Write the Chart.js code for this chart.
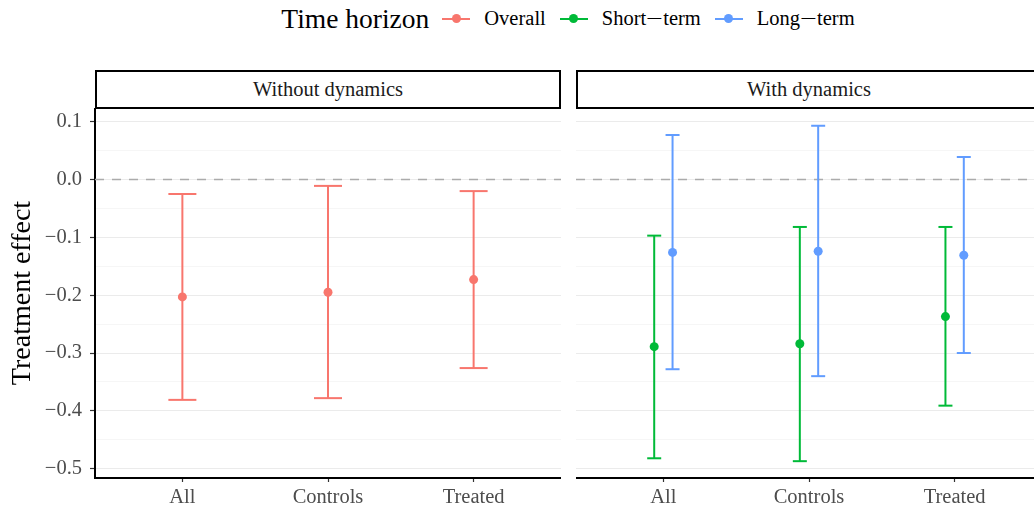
<!DOCTYPE html>
<html><head><meta charset="utf-8">
<script src="https://cdn.jsdelivr.net/npm/chart.js@4.4.1/dist/chart.umd.min.js"></script>
<style>
html,body{margin:0;padding:0;background:#fff;width:1034px;height:510px;overflow:hidden;position:relative;font-family:"Liberation Serif",serif;}
#legend{position:absolute;top:0;left:95px;width:946px;height:37px;display:flex;align-items:center;justify-content:center;}
.ltitle{font-size:27.5px;color:#000;margin-right:13px;}
.glyph{position:relative;width:28px;height:10px;margin-right:14px;}
.glyph .ln{position:absolute;left:0;right:0;top:4px;height:2px;}
.glyph .dt{position:absolute;left:9.5px;top:0.5px;width:9px;height:9px;border-radius:50%;}
.ltext{font-size:20.5px;color:#000;margin-right:14px;white-space:nowrap;}
.ltext:last-child{margin-right:0;}
.mn{display:inline-block;width:17px;text-align:center;transform:scaleX(1.45);}
.strip{position:absolute;top:70px;height:39px;box-sizing:border-box;border:2px solid #000;display:flex;align-items:center;justify-content:center;font-size:20.5px;color:#1a1a1a;background:#fff;}
canvas{position:absolute;}
</style>
</head>
<body>
<div id="legend"></div>
<div class="strip" id="strip1" style="left:95px;width:466px;"></div>
<div class="strip" id="strip2" style="left:576px;width:466px;"></div>
<canvas id="c1" width="561" height="402" style="left:0;top:108px;width:561px;height:402px;"></canvas>
<canvas id="c2" width="466" height="402" style="left:576px;top:108px;width:466px;height:402px;"></canvas>
<script>
// ---- data ----
const categories = ['All', 'Controls', 'Treated'];
const panelTitles = ['Without dynamics', 'With dynamics'];
const legendTitle = 'Time horizon';
const seriesNames = ['Overall', 'Short\u2212term', 'Long\u2212term'];
const yAxisTitle = 'Treatment effect';
const yTickValues = [0.1, 0.0, -0.1, -0.2, -0.3, -0.4, -0.5];
const yTickLabels = ['0.1', '0.0', '\u22120.1', '\u22120.2', '\u22120.3', '\u22120.4', '\u22120.5'];

const overallEst = [-0.203, -0.195, -0.173];
const overallLo  = [-0.381, -0.378, -0.326];
const overallHi  = [-0.025, -0.011, -0.020];

const shortEst = [-0.289, -0.284, -0.237];
const shortLo  = [-0.482, -0.487, -0.391];
const shortHi  = [-0.097, -0.082, -0.082];

const longEst = [-0.126, -0.124, -0.131];
const longLo  = [-0.328, -0.340, -0.300];
const longHi  = [0.077, 0.093, 0.039];

// ---- styles ----
const COLORS = ['#F8766D', '#00BA38', '#619CFF'];
const DODGE = 0.063;
const Y_MIN = -0.5161, Y_MAX = 0.1237;
const X_MIN = -0.6, X_MAX = 2.6;
const FONT = 'Liberation Serif';

// legend
const lg = document.getElementById('legend');
const t = document.createElement('span'); t.className = 'ltitle'; t.textContent = legendTitle; lg.appendChild(t);
seriesNames.forEach((n, i) => {
  const g = document.createElement('span'); g.className = 'glyph';
  g.innerHTML = '<span class="ln" style="background:' + COLORS[i] + '"></span><span class="dt" style="background:' + COLORS[i] + '"></span>';
  lg.appendChild(g);
  const s = document.createElement('span'); s.className = 'ltext';
  n.split('\u2212').forEach((part, k) => {
    if (k > 0) { const m = document.createElement('span'); m.className = 'mn'; m.textContent = '\u2212'; s.appendChild(m); }
    s.appendChild(document.createTextNode(part));
  });
  lg.appendChild(s);
});
document.getElementById('strip1').textContent = panelTitles[0];
document.getElementById('strip2').textContent = panelTitles[1];

function isMajor(v) { return yTickValues.some(m => Math.abs(m - v) < 1e-6); }
function allYTicks() {
  const out = [];
  const step = yTickValues[0] - yTickValues[1];
  yTickValues.forEach((v, i) => {
    out.push({value: v});
    if (i < yTickValues.length - 1) out.push({value: (v + yTickValues[i + 1]) / 2});
  });
  out.push({value: yTickValues[0] + step / 2});
  out.push({value: yTickValues[yTickValues.length - 1] - step / 2});
  return out.filter(o => o.value >= Y_MIN && o.value <= Y_MAX).sort((a, b) => a.value - b.value);
}

function errDatasets(est, lo, hi, offset, color, cap) {
  const ds = [];
  ds.push({
    data: est.map((v, i) => ({x: i + offset, y: v})),
    showLine: false, pointRadius: 4.5, pointHoverRadius: 4.5,
    pointBackgroundColor: color, pointBorderColor: color, pointBorderWidth: 0, order: 0
  });
  est.forEach((_, i) => {
    ds.push({
      data: [{x: i + offset, y: lo[i]}, {x: i + offset, y: hi[i]}],
      borderColor: color, borderWidth: 2, showLine: true,
      pointStyle: 'line', pointRadius: cap, pointHoverRadius: cap,
      pointBorderColor: color, pointBorderWidth: 2, order: 1
    });
  });
  return ds;
}
function zeroLine() {
  return {
    data: [{x: X_MIN, y: 0}, {x: X_MAX, y: 0}],
    borderColor: '#ababab', borderWidth: 1.6, borderDash: [9, 8],
    pointRadius: 0, pointHoverRadius: 0, order: 2
  };
}

function makeOptions(showY) {
  return {
    responsive: false, animation: false, events: [],
    layout: {padding: 0, autoPadding: false},
    plugins: {legend: {display: false}, tooltip: {enabled: false}},
    scales: {
      x: {
        type: 'linear', min: X_MIN, max: X_MAX,
        afterBuildTicks: a => { a.ticks = categories.map((_, i) => ({value: i})); },
        afterFit: s => { s.height = 32; s.paddingLeft = 0; s.paddingRight = 0; },
        ticks: {
          callback: v => categories[Math.round(v)],
          font: {family: FONT, size: 20.5}, color: '#4d4d4d',
          padding: 3, maxRotation: 0, autoSkip: false
        },
        grid: {display: true, drawOnChartArea: false, drawTicks: true, tickLength: 4, tickColor: '#333', tickWidth: 1.2},
        border: {display: true, color: '#000', width: 2}
      },
      y: {
        type: 'linear', min: Y_MIN, max: Y_MAX,
        afterBuildTicks: a => { a.ticks = allYTicks(); },
        afterFit: s => { s.width = showY ? 95 : 0; s.paddingTop = 0; s.paddingBottom = 0; },
        ticks: {
          display: showY,
          callback: v => { const k = yTickValues.findIndex(m => Math.abs(m - v) < 1e-6); return k >= 0 ? yTickLabels[k] : ''; },
          font: {family: FONT, size: 20.5}, color: '#4d4d4d', padding: 8, autoSkip: false
        },
        grid: {
          color: c => isMajor(c.tick.value) ? '#ebebeb' : '#f6f6f6',
          lineWidth: 1,
          drawTicks: showY, tickLength: 5,
          tickColor: c => isMajor(c.tick.value) ? '#333' : 'rgba(0,0,0,0)', tickWidth: 1.2
        },
        border: {display: showY, color: '#000', width: 2},
        title: {display: showY, text: yAxisTitle, color: '#000', font: {family: FONT, size: 28}, padding: {top: 6, bottom: 0}}
      }
    }
  };
}

new Chart(document.getElementById('c1'), {
  type: 'line',
  data: {datasets: [zeroLine()].concat(errDatasets(overallEst, overallLo, overallHi, 0, COLORS[0], 14))},
  options: makeOptions(true)
});
new Chart(document.getElementById('c2'), {
  type: 'line',
  data: {datasets: [zeroLine()]
    .concat(errDatasets(shortEst, shortLo, shortHi, -DODGE, COLORS[1], 7))
    .concat(errDatasets(longEst, longLo, longHi, DODGE, COLORS[2], 7))},
  options: makeOptions(false)
});
</script>
</body></html>
